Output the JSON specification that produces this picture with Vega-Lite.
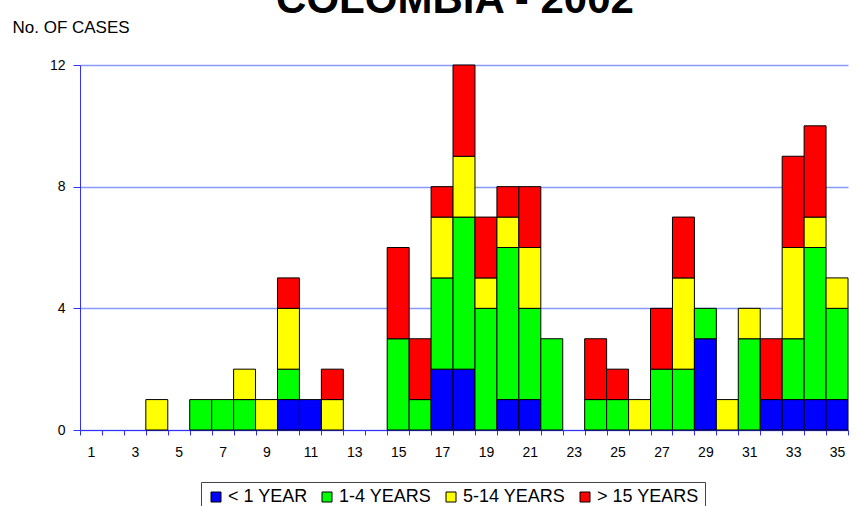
{
  "$schema": "https://vega.github.io/schema/vega-lite/v6.json",
  "width": 768,
  "height": 365,
  "autosize": {"type": "none"},
  "padding": {"left": 80, "top": 65, "right": 13, "bottom": 76},
  "background": "white",
  "config": {
    "view": {"stroke": null},
    "font": "Liberation Sans"
  },
  "title": {
    "text": "COLOMBIA - 2002",
    "fontSize": 42,
    "fontWeight": "bold",
    "font": "Liberation Sans",
    "color": "black",
    "anchor": "middle",
    "dx": -9,
    "dy": 37,
    "baseline": "alphabetic",
    "offset": 0
  },
  "data": {
    "values": [
      {"week": 4, "group": "5-14 YEARS", "ord": 3, "n": 1},
      {"week": 6, "group": "1-4 YEARS", "ord": 2, "n": 1},
      {"week": 7, "group": "1-4 YEARS", "ord": 2, "n": 1},
      {"week": 8, "group": "1-4 YEARS", "ord": 2, "n": 1},
      {"week": 8, "group": "5-14 YEARS", "ord": 3, "n": 1},
      {"week": 9, "group": "5-14 YEARS", "ord": 3, "n": 1},
      {"week": 10, "group": "< 1 YEAR", "ord": 1, "n": 1},
      {"week": 10, "group": "1-4 YEARS", "ord": 2, "n": 1},
      {"week": 10, "group": "5-14 YEARS", "ord": 3, "n": 2},
      {"week": 10, "group": "> 15 YEARS", "ord": 4, "n": 1},
      {"week": 11, "group": "< 1 YEAR", "ord": 1, "n": 1},
      {"week": 12, "group": "5-14 YEARS", "ord": 3, "n": 1},
      {"week": 12, "group": "> 15 YEARS", "ord": 4, "n": 1},
      {"week": 15, "group": "1-4 YEARS", "ord": 2, "n": 3},
      {"week": 15, "group": "> 15 YEARS", "ord": 4, "n": 3},
      {"week": 16, "group": "1-4 YEARS", "ord": 2, "n": 1},
      {"week": 16, "group": "> 15 YEARS", "ord": 4, "n": 2},
      {"week": 17, "group": "< 1 YEAR", "ord": 1, "n": 2},
      {"week": 17, "group": "1-4 YEARS", "ord": 2, "n": 3},
      {"week": 17, "group": "5-14 YEARS", "ord": 3, "n": 2},
      {"week": 17, "group": "> 15 YEARS", "ord": 4, "n": 1},
      {"week": 18, "group": "< 1 YEAR", "ord": 1, "n": 2},
      {"week": 18, "group": "1-4 YEARS", "ord": 2, "n": 5},
      {"week": 18, "group": "5-14 YEARS", "ord": 3, "n": 2},
      {"week": 18, "group": "> 15 YEARS", "ord": 4, "n": 3},
      {"week": 19, "group": "1-4 YEARS", "ord": 2, "n": 4},
      {"week": 19, "group": "5-14 YEARS", "ord": 3, "n": 1},
      {"week": 19, "group": "> 15 YEARS", "ord": 4, "n": 2},
      {"week": 20, "group": "< 1 YEAR", "ord": 1, "n": 1},
      {"week": 20, "group": "1-4 YEARS", "ord": 2, "n": 5},
      {"week": 20, "group": "5-14 YEARS", "ord": 3, "n": 1},
      {"week": 20, "group": "> 15 YEARS", "ord": 4, "n": 1},
      {"week": 21, "group": "< 1 YEAR", "ord": 1, "n": 1},
      {"week": 21, "group": "1-4 YEARS", "ord": 2, "n": 3},
      {"week": 21, "group": "5-14 YEARS", "ord": 3, "n": 2},
      {"week": 21, "group": "> 15 YEARS", "ord": 4, "n": 2},
      {"week": 22, "group": "1-4 YEARS", "ord": 2, "n": 3},
      {"week": 24, "group": "1-4 YEARS", "ord": 2, "n": 1},
      {"week": 24, "group": "> 15 YEARS", "ord": 4, "n": 2},
      {"week": 25, "group": "1-4 YEARS", "ord": 2, "n": 1},
      {"week": 25, "group": "> 15 YEARS", "ord": 4, "n": 1},
      {"week": 26, "group": "5-14 YEARS", "ord": 3, "n": 1},
      {"week": 27, "group": "1-4 YEARS", "ord": 2, "n": 2},
      {"week": 27, "group": "> 15 YEARS", "ord": 4, "n": 2},
      {"week": 28, "group": "1-4 YEARS", "ord": 2, "n": 2},
      {"week": 28, "group": "5-14 YEARS", "ord": 3, "n": 3},
      {"week": 28, "group": "> 15 YEARS", "ord": 4, "n": 2},
      {"week": 29, "group": "< 1 YEAR", "ord": 1, "n": 3},
      {"week": 29, "group": "1-4 YEARS", "ord": 2, "n": 1},
      {"week": 30, "group": "5-14 YEARS", "ord": 3, "n": 1},
      {"week": 31, "group": "1-4 YEARS", "ord": 2, "n": 3},
      {"week": 31, "group": "5-14 YEARS", "ord": 3, "n": 1},
      {"week": 32, "group": "< 1 YEAR", "ord": 1, "n": 1},
      {"week": 32, "group": "> 15 YEARS", "ord": 4, "n": 2},
      {"week": 33, "group": "< 1 YEAR", "ord": 1, "n": 1},
      {"week": 33, "group": "1-4 YEARS", "ord": 2, "n": 2},
      {"week": 33, "group": "5-14 YEARS", "ord": 3, "n": 3},
      {"week": 33, "group": "> 15 YEARS", "ord": 4, "n": 3},
      {"week": 34, "group": "< 1 YEAR", "ord": 1, "n": 1},
      {"week": 34, "group": "1-4 YEARS", "ord": 2, "n": 5},
      {"week": 34, "group": "5-14 YEARS", "ord": 3, "n": 1},
      {"week": 34, "group": "> 15 YEARS", "ord": 4, "n": 3},
      {"week": 35, "group": "< 1 YEAR", "ord": 1, "n": 1},
      {"week": 35, "group": "1-4 YEARS", "ord": 2, "n": 3},
      {"week": 35, "group": "5-14 YEARS", "ord": 3, "n": 1}
    ]
  },
  "mark": {"type": "bar", "stroke": "black", "strokeWidth": 1},
  "encoding": {
    "x": {
      "field": "week",
      "type": "ordinal",
      "scale": {
        "domain": [1,2,3,4,5,6,7,8,9,10,11,12,13,14,15,16,17,18,19,20,21,22,23,24,25,26,27,28,29,30,31,32,33,34,35],
        "paddingInner": 0,
        "paddingOuter": 0
      },
      "axis": {
        "title": null,
        "labelAngle": 0,
        "labelExpr": "datum.value % 2 == 1 ? datum.label : ''",
        "labelFontSize": 14,
        "labelColor": "black",
        "labelPadding": 10,
        "tickBand": "extent",
        "tickSize": 5,
        "tickColor": "#3030ff",
        "domainColor": "#3030ff",
        "grid": false
      }
    },
    "y": {
      "field": "n",
      "type": "quantitative",
      "stack": "zero",
      "scale": {"domain": [0, 12], "nice": false},
      "axis": {
        "values": [0, 4, 8, 12],
        "title": "No. OF CASES",
        "titleAngle": 0,
        "titleAlign": "left",
        "titleBaseline": "alphabetic",
        "titleX": -68,
        "titleY": -33,
        "titleFontSize": 17,
        "titleFontWeight": "normal",
        "titleColor": "black",
        "labelFontSize": 14,
        "labelColor": "black",
        "labelPadding": 8,
        "tickSize": 7,
        "tickColor": "#3030ff",
        "domainColor": "#3030ff",
        "grid": true,
        "gridColor": "#8899ff",
        "gridWidth": 1.5
      }
    },
    "color": {
      "field": "group",
      "type": "nominal",
      "scale": {
        "domain": ["< 1 YEAR", "1-4 YEARS", "5-14 YEARS", "> 15 YEARS"],
        "range": ["#0000ff", "#00ff00", "#ffff00", "#ff0000"]
      },
      "legend": {
        "title": null,
        "orient": "none",
        "legendX": 121,
        "legendY": 417,
        "direction": "horizontal",
        "columns": 4,
        "symbolType": "square",
        "symbolSize": 100,
        "symbolStrokeColor": "black",
        "symbolStrokeWidth": 1,
        "symbolOpacity": 1,
        "labelFontSize": 18,
        "labelColor": "black",
        "labelOffset": 3,
        "columnPadding": 10,
        "padding": 6,
        "strokeColor": "#444444",
        "fillColor": "white"
      }
    },
    "order": {"field": "ord", "type": "quantitative"}
  }
}
